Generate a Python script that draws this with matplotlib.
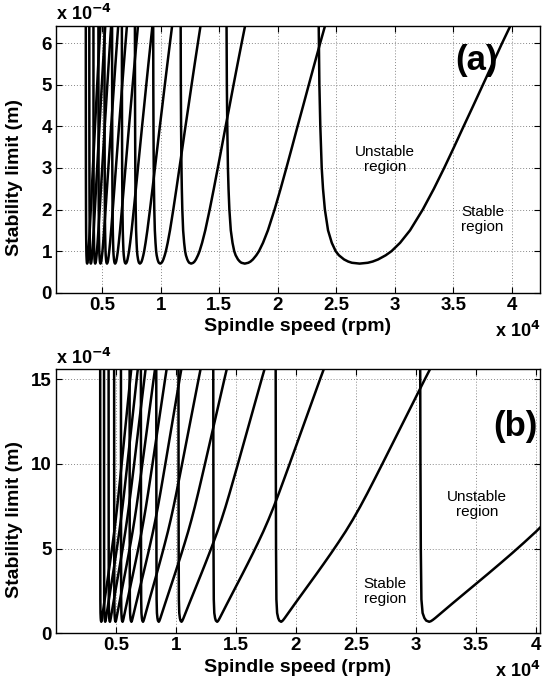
import numpy as np
import matplotlib
matplotlib.use("Agg")
import matplotlib.pyplot as plt

# ---------------- data (speed in x1e4 rpm, limit in x1e-4 m) ----------------
# Panel (a): profile of lobe 1, with the lobe phase fraction
a_left_lim = [0.72, 0.75, 0.8, 0.9, 1.0, 1.2, 1.5, 2.0, 2.5, 3.0, 4.0, 5.0, 6.5]
a_left_speed = [2.634, 2.602, 2.567, 2.523, 2.495, 2.462, 2.430, 2.403, 2.387,
                2.376, 2.364, 2.356, 2.350]
a_left_phase = [0.788, 0.808, 0.830, 0.858, 0.877, 0.901, 0.923, 0.943, 0.955,
                0.963, 0.972, 0.978, 0.983]
a_right_lim = [0.70, 0.72, 0.75, 0.8, 0.9, 1.0, 1.2, 1.5, 2.0, 2.5, 3.0, 3.5,
               4.0, 4.5, 5.0, 5.5, 6.0, 6.5]
a_right_speed = [2.700, 2.770, 2.812, 2.858, 2.923, 2.973, 3.046, 3.131, 3.240,
                 3.335, 3.423, 3.507, 3.589, 3.672, 3.754, 3.836, 3.918, 4.003]
a_right_phase = [0.750, 0.712, 0.692, 0.670, 0.642, 0.623, 0.599, 0.577, 0.557,
                 0.545, 0.537, 0.532, 0.528, 0.525, 0.522, 0.520, 0.519, 0.517]
a_lobes = [1, 2, 3, 4, 5, 6, 7, 8, 9, 10, 11, 12]

# Panel (b): profile of lobe 1
b_left_lim = [0.75, 0.9, 1.2, 2.0, 5.0, 10.0, 15.6]
b_left_speed = [3.085, 3.070, 3.055, 3.045, 3.040, 3.037, 3.035]
b_left_phase = [0.52, 0.52, 0.52, 0.52, 0.52, 0.52, 0.52]
b_right_lim = [0.68, 0.72, 0.79, 0.90, 1.14, 1.44, 1.74, 2.33, 2.92, 3.51,
               4.11, 4.72, 5.35, 6.00, 6.70, 7.45, 8.25, 9.08, 9.92, 10.77,
               11.62, 12.47, 13.32, 14.17, 15.02, 15.6]
b_right_speed = [3.110, 3.125, 3.140, 3.160, 3.200, 3.250, 3.300, 3.400, 3.500,
                 3.600, 3.700, 3.800, 3.900, 4.000, 4.100, 4.200, 4.300, 4.400,
                 4.500, 4.600, 4.700, 4.800, 4.900, 5.000, 5.100, 5.170]
b_right_phase = [0.52] * len(b_right_lim)
b_lobes = [1, 2, 3, 4, 5, 6, 7, 8, 9, 10, 11, 12]

a_xticks = [0.5, 1, 1.5, 2, 2.5, 3, 3.5, 4]
a_yticks = [0, 1, 2, 3, 4, 5, 6]
b_xticks = [0.5, 1, 1.5, 2, 2.5, 3, 3.5, 4]
b_yticks = [0, 5, 10, 15]


def lobe(k, ls, ll, lp, rs, rl, rp):
    ls, ll, lp = np.asarray(ls), np.asarray(ll), np.asarray(lp)
    rs, rl, rp = np.asarray(rs), np.asarray(rl), np.asarray(rp)
    xl = ls * (1 + lp) / (k + lp)
    xr = rs * (1 + rp) / (k + rp)
    x = np.concatenate([xl[::-1], xr])
    y = np.concatenate([ll[::-1], rl])
    return x, y


plt.rcParams['font.family'] = ['Liberation Sans', 'DejaVu Sans']

fig = plt.figure(figsize=(5.44, 6.86), dpi=100)
axa = fig.add_axes([0.1029, 0.5733, 0.8897, 0.3892])
axb = fig.add_axes([0.1029, 0.0768, 0.8897, 0.3848])

for k in a_lobes:
    x, y = lobe(k, a_left_speed, a_left_lim, a_left_phase,
                a_right_speed, a_right_lim, a_right_phase)
    axa.plot(x, y, color='black', lw=1.8, solid_joinstyle='round')
for k in b_lobes:
    x, y = lobe(k, b_left_speed, b_left_lim, b_left_phase,
                b_right_speed, b_right_lim, b_right_phase)
    axb.plot(x, y, color='black', lw=1.8, solid_joinstyle='round')

axa.set_xlim(0.104, 4.242)
axa.set_ylim(0, 6.42)
axb.set_xlim(0.0, 4.033)
axb.set_ylim(0, 15.57)

for ax, xt, yt in [(axa, a_xticks, a_yticks), (axb, b_xticks, b_yticks)]:
    ax.set_xticks(xt)
    ax.set_xticklabels([('%g' % v) for v in xt])
    ax.set_yticks(yt)
    ax.set_yticklabels([('%g' % v) for v in yt])
    ax.grid(True, color='#888888', linestyle=(0, (1, 2)), linewidth=0.7)
    ax.tick_params(direction='in', length=4, width=0.8, top=True, right=True,
                   labelsize=13.5, pad=3)
    for lab in ax.get_xticklabels() + ax.get_yticklabels():
        lab.set_fontweight('bold')
    for s in ax.spines.values():
        s.set_linewidth(1.0)
    ax.set_xlabel('Spindle speed (rpm)', fontsize=14, fontweight='bold', labelpad=3)
    ax.set_ylabel('Stability limit (m)', fontsize=14, fontweight='bold',
                  va='center', ha='center')
    ax.yaxis.set_label_coords(-0.085, 0.43)
    ax.text(0.0, 1.005, r'x 10$^{\mathbf{-4}}$', transform=ax.transAxes,
            ha='left', va='bottom', fontsize=13, fontweight='bold')
    ax.text(1.0, -0.105, r'x 10$^{\mathbf{4}}$', transform=ax.transAxes,
            ha='right', va='top', fontsize=13, fontweight='bold')

axa.text(3.70, 5.58, '(a)', fontsize=25, fontweight='bold', ha='center', va='center')
axb.text(3.83, 12.2, '(b)', fontsize=25, fontweight='bold', ha='center', va='center')

axa.text(2.92, 3.2, 'Unstable\nregion', fontsize=11, ha='center', va='center',
         linespacing=1.1)
axa.text(3.75, 1.75, 'Stable\nregion', fontsize=11, ha='center', va='center',
         linespacing=1.1)
axb.text(3.51, 7.6, 'Unstable\nregion', fontsize=11, ha='center', va='center',
         linespacing=1.1)
axb.text(2.74, 2.45, 'Stable\nregion', fontsize=11, ha='center', va='center',
         linespacing=1.1)

fig.savefig('out.png', dpi=100)
